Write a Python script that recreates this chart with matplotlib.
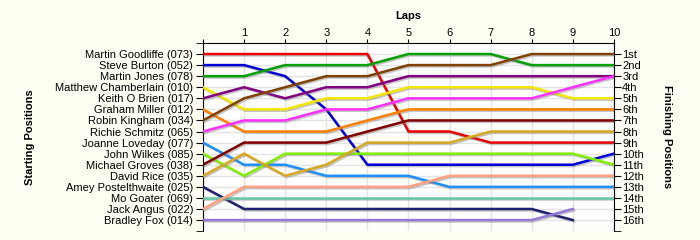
import matplotlib
matplotlib.use("Agg")
import matplotlib.pyplot as plt
import matplotlib.patheffects as pe

# race data: lap 0 = grid position
laps = list(range(0, 11))
drivers = ["Martin Goodliffe (073)", "Steve Burton (052)", "Martin Jones (078)",
           "Matthew Chamberlain (010)", "Keith O Brien (017)", "Graham Miller (012)",
           "Robin Kingham (034)", "Richie Schmitz (065)", "Joanne Loveday (077)",
           "John Wilkes (085)", "Michael Groves (038)", "David Rice (035)",
           "Amey Postelthwaite (025)", "Mo Goater (069)", "Jack Angus (022)",
           "Bradley Fox (014)"]
positions = [
    [1, 1, 1, 1, 1, 8, 8, 9, 9, 9, 9],
    [2, 2, 3, 6, 11, 11, 11, 11, 11, 11, 10],
    [3, 3, 2, 2, 2, 1, 1, 1, 2, 2, 2],
    [4, 6, 6, 5, 5, 4, 4, 4, 4, 5, 5],
    [5, 4, 5, 4, 4, 3, 3, 3, 3, 3, 3],
    [6, 8, 8, 8, 7, 6, 6, 6, 6, 6, 6],
    [7, 5, 4, 3, 3, 2, 2, 2, 1, 1, 1],
    [8, 7, 7, 6, 6, 5, 5, 5, 5, 4, 3],
    [9, 11, 11, 12, 12, 12, 13, 13, 13, 13, 13],
    [10, 12, 10, 10, 10, 10, 10, 10, 10, 10, 11],
    [11, 9, 9, 9, 8, 7, 7, 7, 7, 7, 7],
    [12, 10, 12, 11, 9, 9, 9, 8, 8, 8, 8],
    [13, 15, 15, 15, 15, 15, 15, 15, 15, 16],
    [14, 14, 14, 14, 14, 14, 14, 14, 14, 14, 14],
    [15, 13, 13, 13, 13, 13, 12, 12, 12, 12, 12],
    [16, 16, 16, 16, 16, 16, 16, 16, 16, 15],
]
finish_labels = ["1st", "2nd", "3rd", "4th", "5th", "6th", "7th", "8th", "9th",
                 "10th", "11th", "12th", "13th", "14th", "15th", "16th"]
colors = ["#e80000", "#0000d8", "#00a000", "#f5e600", "#800080", "#ff8000",
          "#804000", "#ff30ff", "#2090ff", "#80f000", "#800000", "#d8a820",
          "#202070", "#66c8a8", "#ffa080", "#9478d8"]

plt.rcParams['font.family'] = ['Liberation Sans', 'DejaVu Sans']
bg = "#fffef2"
fig = plt.figure(figsize=(7, 2.4), dpi=100, facecolor=bg)
ax = fig.add_axes([0.29, 0.037, 0.587, 0.784])
ax.set_facecolor("white")

shadow = [pe.SimpleLineShadow(offset=(1, -1), shadow_color="gray", alpha=0.45),
          pe.Normal()]
for pos, c in zip(positions, colors):
    ax.plot(laps[:len(pos)], pos, color=c, lw=1.8, path_effects=shadow,
            solid_joinstyle="miter", zorder=3)

ax.set_xlim(0, 10)
ax.set_ylim(17, 0)
ax.set_xticks(laps)
ax.set_xticklabels([""] + [str(l) for l in laps[1:]], fontsize=8)
ax.xaxis.tick_top()
ax.set_yticks(range(1, 17))
ax.set_yticklabels(drivers, fontsize=8)
ax.set_yticks([0, 17], minor=True)
ax.tick_params(axis="y", which="both", length=5, direction="out", pad=2)
ax.tick_params(axis="x", length=3, direction="out", pad=0.5)
ax.grid(True, color="#e4e4e4", lw=1, zorder=0)
ax.spines["bottom"].set_visible(False)
ax.spines["right"].set_visible(False)

ax.set_xlabel("Laps", fontsize=8, fontweight="bold")
ax.xaxis.set_label_position("top")
ax.xaxis.set_label_coords(0.5, 1.125)
ax.set_ylabel("Starting Positions", fontsize=8, fontweight="bold")
ax.yaxis.set_label_coords(-0.41, 0.5)

ax2 = ax.twinx()
ax2.set_ylim(17, 0)
ax2.set_yticks(range(1, 17))
ax2.set_yticklabels(finish_labels, fontsize=8)
ax2.set_yticks([17], minor=True)
ax2.tick_params(axis="y", which="both", length=5, direction="out", pad=1)
for s in ["top", "left", "bottom"]:
    ax2.spines[s].set_visible(False)
ax2.set_ylabel("Finishing Positions", fontsize=8, fontweight="bold",
               rotation=-90, labelpad=20)

fig.savefig("out.png", dpi=100, facecolor=bg)
